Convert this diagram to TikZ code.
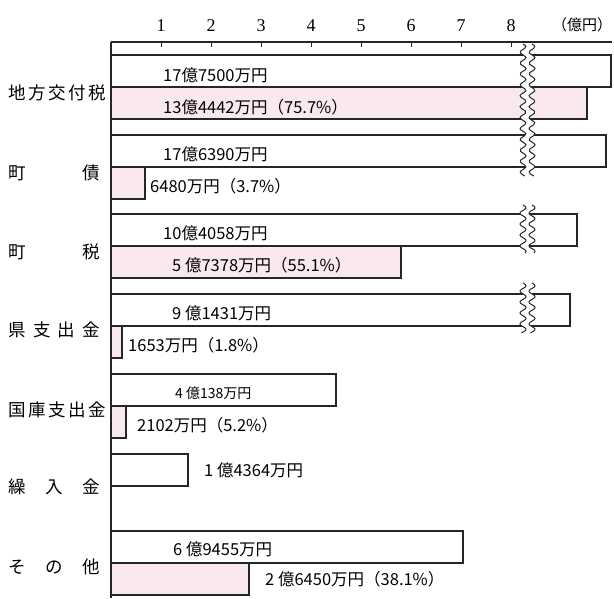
\documentclass[tikz,border=0pt]{standalone}
\usepackage{fontspec}
\setmainfont{Liberation Serif}
\newfontfamily\jp{Noto Sans CJK JP}
\definecolor{barpink}{RGB}{250,232,240}
\tikzset{
  bar/.style={draw=black!85, line width=1.3pt},
  whitebar/.style={bar, fill=white},
  pinkbar/.style={bar, fill=barpink},
  amount/.style={anchor=west, inner sep=0pt, font=\jp\fontsize{16.5}{16.5}\selectfont},
  item/.style={anchor=west, inner sep=0pt, font=\jp\fontsize{17.5}{17.5}\selectfont},
  ticknum/.style={inner sep=0pt, font=\fontsize{18}{18}\selectfont},
  wave/.style={draw=black!85, line width=1pt}
}
\newcommand\spreadtext[1]{\makebox[92pt][s]{#1}}
\begin{document}
\begin{tikzpicture}[x=1pt, y=-1pt]
  \useasboundingbox (0,0) rectangle (614,598);
  \def \Groups {
    1/55/611/587,
    2/135/606/145,
    3/214/577/401,
    4/294/570/122,
    5/374/336/126,
    7/531/463/249}
  \def \Breaks {
    44/176,
    205/253,
    283/333}
  \def \Items {
    1/93/地 方 交 付 税,
    2/173/町 債,
    3/252/町 税,
    4/330/県 支 出 金,
    5/410/国 庫 支 出 金,
    6/487/繰 入 金,
    7/567/そ の 他}
  \def \Amounts {
    w1/163/75/17億7500万円,
    p1/163/107/13億4442万円（75.7\%）,
    w2/163/154/17億6390万円,
    p2/150/186/6480万円（3.7\%）,
    w3/163/233/10億4058万円,
    p3/172/265/5 億7378万円（55.1\%）,
    w4/172/313/9 億1431万円,
    p4/128/345/1653万円（1.8\%）,
    p5/137/425/2102万円（5.2\%）,
    w6/204/470/1 億4364万円,
    w7/173/549/6 億9455万円,
    p7/265/579/2 億6450万円（38.1\%）}

  % bars
  \foreach \id / \ytop / \wx / \px in \Groups {
    \draw[whitebar] (111,\ytop) rectangle (\wx,\ytop+32);
    \draw[pinkbar] (111,\ytop+32) rectangle (\px,\ytop+64);
  }
  \draw[whitebar] (111,454) rectangle (188,486);

  % breaks
  \foreach \ya / \yb in \Breaks {
    \fill[white] plot[domain=0:\yb-\ya, samples=60] ({523+3*sin(33*\x)}, {\ya+\x})
      -- plot[domain=0:\yb-\ya, samples=60] ({532+3*sin(33*(\yb-\ya-\x))}, {\yb-\x}) -- cycle;
    \draw[wave] plot[domain=0:\yb-\ya, samples=60, smooth] ({523+3*sin(33*\x)}, {\ya+\x});
    \draw[wave] plot[domain=0:\yb-\ya, samples=60, smooth] ({532+3*sin(33*\x)}, {\ya+\x});
  }

  % axis
  \draw[bar] (111,42) -- (612,42);
  \draw[bar] (111,42) -- (111,598);
  \foreach \n in {1,...,8} {
    \draw[bar, line width=1pt] (111+50*\n,42) -- (111+50*\n,47);
    \node[ticknum] (t\n) at (111+50*\n,26) {\n};
  }
  \node[ticknum, font=\jp\fontsize{15}{15}\selectfont] (unit) at (582,25) {（億円）};

  % labels
  \foreach \id / \y / \txt in \Items {
    \node[item] (item\id) at (8,\y) {\spreadtext{\txt}};
  }
  \foreach \id / \x / \y / \txt in \Amounts {
    \node[amount] (\id) at (\x,\y) {\txt};
  }
  \node[amount, font=\jp\fontsize{14}{14}\selectfont] (w5) at (175,393) {4 億138万円};
\end{tikzpicture}
\end{document}
